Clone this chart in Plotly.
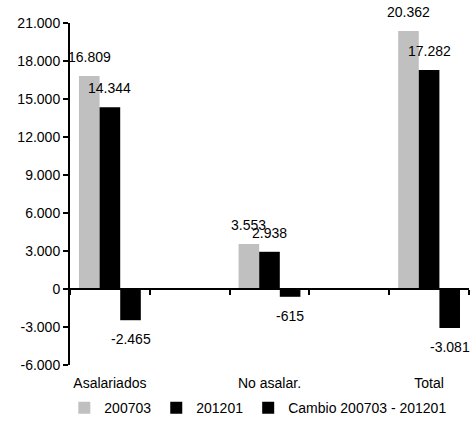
import plotly.graph_objects as go

categories = ["Asalariados", "No asalar.", "Total"]
series_names = ["200703", "201201", "Cambio 200703 - 201201"]
v_200703 = [16809, 3553, 20362]
v_201201 = [14344, 2938, 17282]
v_cambio = [-2465, -615, -3081]
y_tickvals = [-6000, -3000, 0, 3000, 6000, 9000, 12000, 15000, 18000, 21000]
y_ticktext = ["-6.000", "-3.000", "0", "3.000", "6.000", "9.000", "12.000", "15.000", "18.000", "21.000"]

colors = ["#C0C0C0", "#000000", "#000000"]
FONT = "Liberation Sans, Arial, sans-serif"
FS = 14

def fmt(v):
    return f"{v:,}".replace(",", ".")

xpos = [2 * i for i in range(len(categories))]
ymin, ymax = y_tickvals[0], y_tickvals[-1]

W, H = 473, 421
ML, MR, MT, MB = 70, 4, 23, 56
BARGAP = 0.6125
lo, hi = xpos[0] - 0.5, xpos[-1] + 0.5
bounds = [lo + i for i in range(int(hi - lo) + 1)]

fig = go.Figure()
all_series = [v_200703, v_201201, v_cambio]
for name, vals, col in zip(series_names, all_series, colors):
    fig.add_trace(go.Bar(
        x=xpos, y=vals, name=name, marker=dict(color=col, line=dict(width=0)),
        hoverinfo="skip",
    ))

# value labels, placed on each bar end with a pixel offset
px_per_unit = (W - ML - MR) / (hi - lo)
slot_px = px_per_unit * (xpos[1] - xpos[0])
bar_px = slot_px * (1 - BARGAP) / len(all_series)
annotations = []
for i, vals in enumerate(all_series):
    for xp, v in zip(xpos, vals):
        annotations.append(dict(
            x=xp, y=v, xref="x", yref="y", text=fmt(v), showarrow=False,
            xshift=(i - (len(all_series) - 1) / 2) * bar_px,
            yshift=19 if v >= 0 else -19,
            font=dict(family=FONT, size=FS, color="#000"),
        ))

# dummy trace to hold the zero-crossing axis
fig.add_trace(go.Scatter(x=[], y=[], xaxis="x2", showlegend=False, hoverinfo="skip"))

fig.update_layout(
    width=W, height=H,
    margin=dict(l=ML, r=MR, t=MT, b=MB, autoexpand=False),
    paper_bgcolor="white", plot_bgcolor="white",
    font=dict(family=FONT, size=FS, color="#000"),
    barmode="group", bargap=BARGAP, bargroupgap=0,
    showlegend=True,
    annotations=annotations,
    legend=dict(orientation="h", x=0.472, xanchor="center", y=-0.126, yanchor="middle",
                font=dict(size=FS), itemwidth=30, traceorder="normal"),
    xaxis=dict(range=[lo, hi], tickvals=xpos, ticktext=categories, ticks="",
               showline=False, showgrid=False, zeroline=False, automargin=False,
               tickfont=dict(size=FS), ticklabelstandoff=8),
    xaxis2=dict(range=[lo, hi], overlaying="x", anchor="free", automargin=False,
                position=(0 - ymin) / (ymax - ymin), side="bottom",
                tickvals=bounds, ticks="outside", ticklen=5, tickwidth=1.5, tickcolor="#000",
                showticklabels=False, showline=True, linewidth=1.5, linecolor="#000",
                showgrid=False, zeroline=False),
    yaxis=dict(range=[ymin, ymax], tickvals=y_tickvals, ticktext=y_ticktext, automargin=False,
               ticks="outside", ticklen=5, tickwidth=1.5, tickcolor="#000",
               showline=True, linewidth=2, linecolor="#000",
               showgrid=False, zeroline=False, tickfont=dict(size=FS)),
)

fig.write_html("out.html", config={"displayModeBar": False},
               post_script="document.body.style.margin='0';")
